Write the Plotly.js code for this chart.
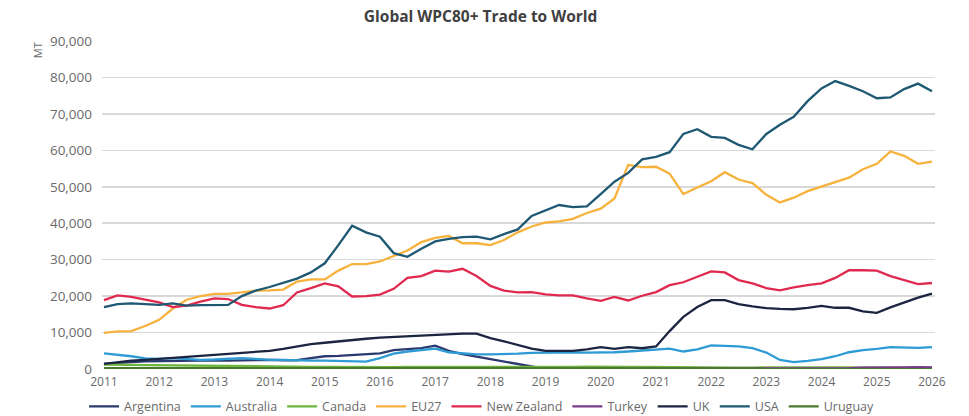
<!DOCTYPE html>
<html>
<head>
<meta charset="utf-8">
<title>Global WPC80+ Trade to World</title>
<script src="https://cdn.plot.ly/plotly-3.0.1.min.js"></script>
<style>
  html, body { margin: 0; padding: 0; background: #ffffff; }
  #chart { width: 969px; height: 416px; }
</style>
</head>
<body>
<div id="chart"></div>
<script>
(function() {
  "use strict";

  // quarterly readings, Jan 2011 .. Jan 2026 (61 points, 4 per year + last)
  var firstYear = 2011;
  var lastYear = 2026;

  var argentina = [
    1400, 1700, 1900, 2100,
    2200, 2300, 2400, 2500,
    2400, 2300, 2400, 2500,
    2500, 2400, 2400, 3000,
    3500, 3600, 3800, 4000,
    4300, 5200, 5500, 5700,
    6400, 5000, 4100, 3400,
    2900, 2200, 1500, 700,
    0, 0, 0, 0,
    0, 0, 0, 0,
    0, 0, 0, 0,
    0, 0, 0, 0,
    0, 0, 0, 0,
    0, 0, 0, 0,
    0, 0, 0, 0,
    0
  ];

  var australia = [
    4300, 4000, 3500, 2900,
    2800, 3000, 2700, 2500,
    2600, 2800, 3000, 2800,
    2500, 2500, 2300, 2300,
    2300, 2200, 2000, 2000,
    3000, 4200, 4800, 5300,
    5600, 4600, 4300, 4000,
    4000, 4000, 4200, 4400,
    4500, 4600, 4600, 4500,
    4500, 4600, 4800, 5100,
    5400, 5600, 4800, 5400,
    6500, 6400, 6200, 5700,
    4500, 2500, 1900, 2200,
    2700, 3500, 4600, 5200,
    5500, 6000, 5800, 5800,
    6000
  ];

  var canada = [
    1200, 1150, 1100, 1000,
    950, 900, 850, 800,
    750, 750, 700, 700,
    650, 650, 600, 600,
    600, 550, 550, 550,
    500, 500, 550, 550,
    500, 500, 450, 450,
    450, 400, 400, 450,
    450, 500, 550, 650,
    700, 650, 600, 550,
    500, 500, 450, 450,
    450, 400, 400, 400,
    450, 500, 550, 500,
    450, 450, 400, 400,
    400, 350, 350, 350,
    350
  ];

  var eu27 = [
    9900, 10300, 10400, 11800,
    13500, 16600, 19000, 20000,
    20600, 20600, 21000, 21500,
    21600, 21800, 24000, 24600,
    24600, 27000, 28800, 28800,
    29500, 31000, 32500, 34800,
    36000, 36500, 34500, 34500,
    34000, 35400, 37500, 39100,
    40200, 40500, 41200, 42800,
    44000, 46800, 56000, 55400,
    55500, 53600, 48000, 49800,
    51500, 54000, 52000, 51000,
    47800, 45700, 47000, 48800,
    50000, 51200, 52500, 54800,
    56300, 59700, 58500, 56300,
    56900
  ];

  var newZealand = [
    18900, 20200, 19800, 19100,
    18300, 17000, 17400, 18500,
    19400, 19200, 17600, 17000,
    16600, 17500, 21000, 22200,
    23500, 22700, 19900, 20000,
    20400, 22000, 25000, 25500,
    27000, 26700, 27500, 25500,
    22800, 21500, 21000, 21100,
    20500, 20200, 20200, 19400,
    18700, 19800, 18800, 20100,
    21100, 23000, 23800, 25300,
    26800, 26500, 24400, 23500,
    22200, 21600, 22400, 23000,
    23500, 25000, 27100, 27100,
    27000, 25500, 24300, 23300,
    23600
  ];

  var turkey = [
    0, 0, 0, 0,
    0, 0, 0, 0,
    0, 0, 0, 0,
    0, 0, 0, 0,
    0, 0, 0, 0,
    0, 0, 0, 0,
    0, 0, 0, 0,
    0, 0, 0, 0,
    0, 0, 0, 0,
    0, 0, 0, 0,
    0, 0, 0, 0,
    0, 0, 0, 0,
    0, 0, 0, 0,
    0, 0, 200, 350,
    450, 500, 450, 500,
    450
  ];

  var uk = [
    1400, 1800, 2300, 2500,
    2700, 3000, 3300, 3600,
    3900, 4100, 4300, 4600,
    5000, 5500, 6200, 6800,
    7200, 7600, 8000, 8300,
    8600, 8800, 9000, 9200,
    9300, 9500, 9700, 9700,
    8500, 7600, 6500, 5600,
    5000, 5000, 5000, 5400,
    6000, 5500, 6000, 5700,
    6200, 10400, 14300, 17000,
    18900, 18900, 17800, 17200,
    16700, 16500, 16400, 16800,
    17300, 16800, 16800, 15800,
    15400, 16900, 18300, 19600,
    20700
  ];

  var usa = [
    17000, 17800, 18000, 17800,
    17600, 18000, 17400, 17500,
    17500, 17600, 20000, 21500,
    22500, 23700, 24800, 26500,
    29000, 34000, 39300, 37500,
    36300, 31800, 30800, 33000,
    35000, 35700, 36200, 36300,
    35600, 37000, 38300, 42000,
    43500, 45000, 44400, 44600,
    48000, 51400, 53800, 57500,
    58200, 59500, 64500, 65800,
    63700, 63400, 61500, 60300,
    64500, 67000, 69200, 73500,
    77000, 79000, 77700, 76200,
    74300, 74500, 76800, 78300,
    76200
  ];

  var uruguay = [
    250, 250, 250, 250,
    250, 250, 200, 200,
    200, 200, 200, 200,
    200, 200, 200, 200,
    200, 200, 200, 200,
    200, 200, 200, 200,
    200, 200, 200, 200,
    150, 150, 150, 150,
    150, 150, 150, 150,
    150, 150, 150, 150,
    150, 150, 150, 150,
    150, 150, 150, 150,
    150, 150, 150, 150,
    150, 150, 150, 150,
    150, 150, 150, 150,
    150
  ];

  var seriesNames = ["Argentina", "Australia", "Canada", "EU27", "New Zealand",
    "Turkey", "UK", "USA", "Uruguay"];
  var seriesValues = [argentina, australia, canada, eu27, newZealand,
    turkey, uk, usa, uruguay];
  var seriesColors = ["#2b3a6e", "#2f9bd5", "#6fb640", "#f6b23c", "#e0294e",
    "#7a3b8a", "#1b2542", "#1e5873", "#4a7b2c"];


  function quarterDates() {
    var dates = [];
    var months = ["01", "04", "07", "10"];
    for (var year = firstYear; year < lastYear; year += 1) {
      for (var q = 0; q < months.length; q += 1) {
        dates.push(year + "-" + months[q] + "-01");
      }
    }
    dates.push(lastYear + "-01-01");
    return dates;
  }


  function main() {
    var x = quarterDates();
    var data = [];
    for (var i = 0; i < seriesNames.length; i += 1) {
      data.push({
        x: x,
        y: seriesValues[i],
        name: seriesNames[i],
        type: "scatter",
        mode: "lines",
        line: { color: seriesColors[i], width: 2.3 },
        hoverinfo: "skip"
      });
    }

    var grey = "#6a6a6a";
    var layout = {
      width: 969,
      height: 416,
      margin: { l: 102, r: 34, t: 41, b: 47 },
      paper_bgcolor: "#ffffff",
      plot_bgcolor: "#ffffff",
      font: { family: "Open Sans, sans-serif", color: grey },
      title: {
        text: "<b>Global WPC80+ Trade to World</b>",
        font: { family: "Open Sans, sans-serif", size: 15.5, color: "#404040" },
        xref: "container",
        x: 0.496,
        xanchor: "center",
        yref: "container",
        y: 0.96,
        yanchor: "middle"
      },
      xaxis: {
        type: "date",
        range: ["2010-12-19", "2026-01-21"],
        tick0: "2011-01-01",
        dtick: "M12",
        tickformat: "%Y",
        showgrid: false,
        zeroline: false,
        showline: false,
        ticks: "",
        ticklabelstandoff: 4,
        tickfont: { size: 12, color: grey }
      },
      yaxis: {
        range: [0, 90000],
        dtick: 10000,
        tickformat: ",d",
        showgrid: true,
        gridcolor: "#d9d9d9",
        gridwidth: 1.5,
        zeroline: false,
        showline: false,
        ticks: "",
        ticklabelstandoff: 9,
        tickfont: { size: 13.5, color: grey }
      },
      showlegend: true,
      legend: {
        orientation: "h",
        xref: "container",
        x: 0.497,
        xanchor: "center",
        yref: "container",
        y: 0.022,
        yanchor: "middle",
        font: { size: 12.5, color: grey },
        bgcolor: "rgba(0,0,0,0)"
      },
      annotations: [{
        text: "MT",
        xref: "paper",
        yref: "paper",
        x: -0.078,
        xanchor: "center",
        y: 0.972,
        yanchor: "middle",
        textangle: -90,
        showarrow: false,
        font: { size: 11, color: grey }
      }]
    };

    Plotly.newPlot("chart", data, layout, {
      displayModeBar: false,
      staticPlot: true
    });
  }

  window.addEventListener("load", main, false);

})();
</script>
</body>
</html>
